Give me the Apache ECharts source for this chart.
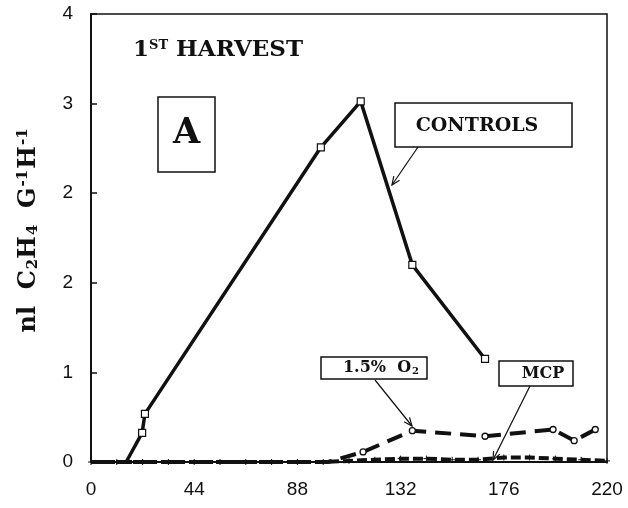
<!DOCTYPE html>
<html>
<head>
<meta charset="utf-8">
<script src="https://cdn.jsdelivr.net/npm/echarts@6/dist/echarts.min.js"></script>
<style>html,body{margin:0;padding:0;background:#fff}#c{width:628px;height:508px}</style>
</head>
<body>
<div id="c"></div>
<script>
// ---- data ----
var xTickLabels = ['0', '44', '88', '132', '176', '220'];
var yTickLabels = ['0', '1', '2', '2', '3', '4'];
var controlsX = [15, 21.8, 23, 98, 115, 137, 168];
var controlsY = [0, 0.26, 0.43, 2.81, 3.22, 1.76, 0.92];
var o2X = [0, 11, 22, 33, 44, 55, 66, 77, 88, 101, 116, 137, 168, 197, 206, 215];
var o2Y = [0, 0, 0, 0, 0, 0, 0, 0, 0, 0, 0.09, 0.28, 0.23, 0.29, 0.19, 0.29];
var mcpX = [0, 11, 22, 33, 44, 55, 66, 77, 88, 99, 110, 121, 132, 143, 154, 165, 176, 187, 198, 209, 220];
var mcpY = [0, 0, 0, 0, 0, 0, 0, 0, 0, 0, 0.01, 0.02, 0.03, 0.03, 0.02, 0.02, 0.04, 0.04, 0.03, 0.02, 0.01];

function pairs(xs, ys) { return xs.map(function (x, i) { return [x, ys[i]]; }); }

var chart = echarts.init(document.getElementById('c'), null, { renderer: 'canvas' });

var serif = '"DejaVu Serif", "Liberation Serif", serif';
var sans = '"Liberation Sans", Arial, sans-serif';

function arrow(x1, y1, x2, y2) {
  var a = Math.atan2(y2 - y1, x2 - x1), L = 9, w = 0.4;
  return [
    { type: 'line', shape: { x1: x1, y1: y1, x2: x2, y2: y2 }, style: { stroke: '#111', lineWidth: 1.2 }, z: 20 },
    { type: 'polyline', shape: { points: [
      [x2 - L * Math.cos(a - w), y2 - L * Math.sin(a - w)], [x2, y2],
      [x2 - L * Math.cos(a + w), y2 - L * Math.sin(a + w)]] },
      style: { stroke: '#111', lineWidth: 1.2, fill: null }, z: 20 }
  ];
}
function box(x, y, w, h) {
  return { type: 'rect', shape: { x: x, y: y, width: w, height: h }, style: { fill: '#fff', stroke: '#111', lineWidth: 1.5 }, z: 15 };
}

var graphics = [
  { type: 'text', left: 133, top: 39, z: 20, style: {
      text: '{a|1}{s|ST}{a| HARVEST}', rich: {
        a: { font: 'bold 23px ' + serif, fill: '#111' },
        s: { font: 'bold 13px ' + serif, fill: '#111', verticalAlign: 'top', padding: [0, 0, 10, 0] } } } },
  box(158, 97, 57, 75),
  { type: 'text', z: 20, x: 186.5, y: 134, style: { text: 'A', font: 'bold 35px ' + serif, fill: '#111', textAlign: 'center', textVerticalAlign: 'middle' } },
  box(395, 103, 177, 44),
  { type: 'text', z: 20, x: 477, y: 126, style: { text: 'CONTROLS', font: 'bold 19px ' + serif, fill: '#111', textAlign: 'center', textVerticalAlign: 'middle' } },
  box(321, 357, 106, 22),
  { type: 'text', z: 20, x: 381, y: 368, style: { text: '{a|1.5%  O}{b|2}', textAlign: 'center', textVerticalAlign: 'middle', rich: {
      a: { font: 'bold 16px ' + serif, fill: '#111' }, b: { font: 'bold 10px ' + serif, fill: '#111', padding: [7, 0, 0, 1] } } } },
  box(499, 361, 74, 25),
  { type: 'text', z: 20, x: 543, y: 374, style: { text: 'MCP', font: 'bold 16px ' + serif, fill: '#111', textAlign: 'center', textVerticalAlign: 'middle' } }
].concat(arrow(418, 147, 392, 185), arrow(375, 380, 412, 426), arrow(530, 386, 493, 460));

chart.setOption({
  animation: false,
  backgroundColor: '#fff',
  grid: { left: 91, right: 21, top: 14, bottom: 46, show: true, borderColor: '#111', borderWidth: 1.5, backgroundColor: 'transparent' },
  xAxis: {
    type: 'value', min: 0, max: 220, interval: 44,
    axisLine: { show: true, lineStyle: { color: '#111', width: 2 } },
    axisTick: { show: false },
    splitLine: { show: false },
    axisLabel: { margin: 18, color: '#111', fontSize: 19, fontFamily: sans,
      formatter: function (v) { var i = Math.round(v / 44); return xTickLabels[i] !== undefined ? xTickLabels[i] : ''; } }
  },
  yAxis: {
    type: 'value', min: 0, max: 4, interval: 0.8,
    name: '{p|nl}{a|  C}{b|2}{a|H}{b|4}{a|  G}{c|-1}{a|H}{c|-1}',
    nameLocation: 'middle', nameGap: 50, nameRotate: 90,
    nameTextStyle: { rich: {
      p: { fontFamily: serif, fontWeight: 'bold', fontSize: 24, color: '#111', padding: [0, 0, 0, 16] },
      a: { fontFamily: serif, fontWeight: 'bold', fontSize: 24, color: '#111' },
      b: { fontFamily: serif, fontWeight: 'bold', fontSize: 15, color: '#111', padding: [10, 0, 0, 1] },
      c: { fontFamily: serif, fontWeight: 'bold', fontSize: 15, color: '#111', padding: [0, 1, 10, 1] } } },
    axisLine: { show: true, lineStyle: { color: '#111', width: 2 } },
    axisTick: { show: true, inside: true, length: 6, lineStyle: { color: '#111', width: 1.5 } },
    splitLine: { show: false },
    axisLabel: { margin: 18, color: '#111', fontSize: 19, fontFamily: sans,
      formatter: function (v) { var i = Math.round(v / 0.8); return yTickLabels[i] !== undefined ? yTickLabels[i] : ''; } }
  },
  series: [
    { name: 'MCP', type: 'line', data: pairs(mcpX, mcpY), symbol: 'path://M-1,0L1,0M0,-1L0,1', symbolSize: 6,
      showSymbol: true, itemStyle: { color: '#111', borderColor: '#111', borderWidth: 1 },
      lineStyle: { color: '#111', width: 4, type: [10, 4] }, z: 3 },
    { name: '1.5% O2', type: 'line', data: pairs(o2X, o2Y).map(function (p, i) {
        return { value: p, symbol: i >= 10 ? 'circle' : 'none' }; }),
      symbolSize: 6, showAllSymbol: true, itemStyle: { color: '#fff', borderColor: '#111', borderWidth: 1.3 },
      lineStyle: { color: '#111', width: 4, type: [16, 9] }, z: 4 },
    { name: 'CONTROLS', type: 'line', data: pairs(controlsX, controlsY).map(function (p, i) {
        return { value: p, symbol: i === 0 ? 'none' : 'rect' }; }),
      symbolSize: 7, itemStyle: { color: '#fff', borderColor: '#111', borderWidth: 1.2 },
      lineStyle: { color: '#111', width: 3.5 }, z: 5 }
  ],
  graphic: graphics
});
</script>
</body>
</html>
